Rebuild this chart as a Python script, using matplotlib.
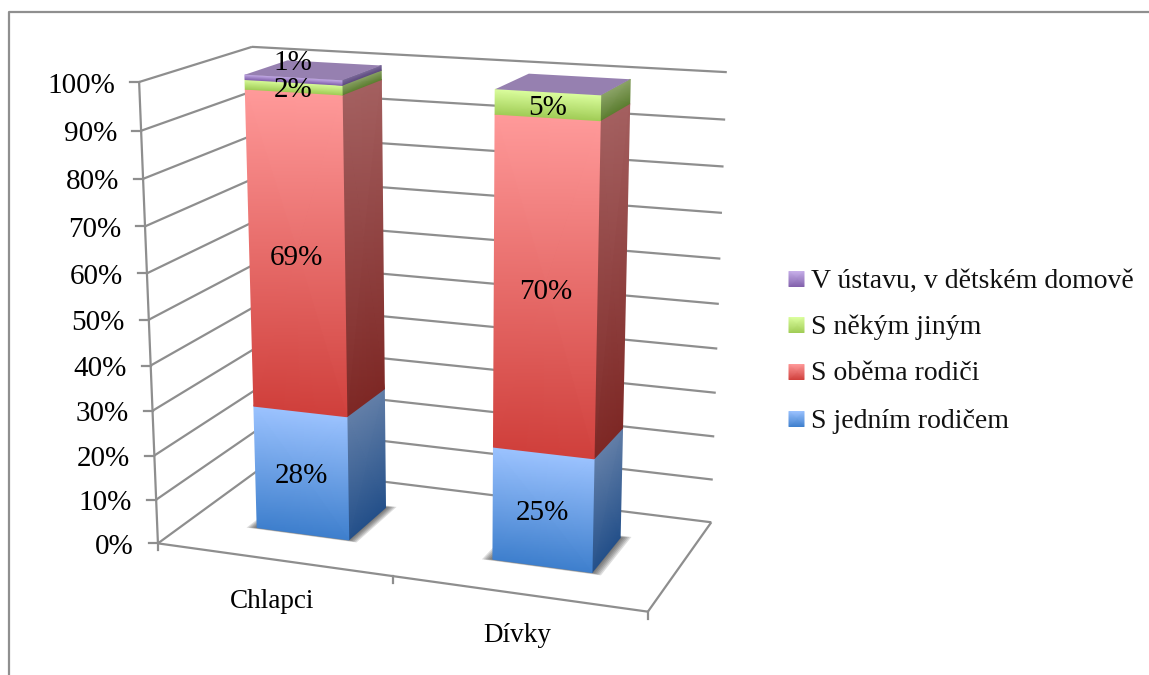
import numpy as np
import matplotlib
matplotlib.use('Agg')
import matplotlib.pyplot as plt
from matplotlib.colors import LinearSegmentedColormap
from matplotlib.patches import Polygon

# data
categories = ['Chlapci', 'Dívky']
series = ['S jedním rodičem', 'S oběma rodiči', 'S někým jiným', 'V ústavu, v dětském domově']
chlapci = [28, 69, 2, 1]
divky = [25, 70, 5, 0]
y_ticks = [0, 10, 20, 30, 40, 50, 60, 70, 80, 90, 100]

# colours for each series: front top, front bottom, side top, side bottom
front_top = ['#9cc3ff', '#ff9a9a', '#dcff9f', '#c8b0ea']
front_bot = ['#3e7fcd', '#d0403c', '#a0cc55', '#8160ab']
side_top = ['#637fa8', '#a46060', '#8ca468', '#7c6c9a']
side_bot = ['#24508a', '#7e2825', '#5c7e30', '#5d4a80']
top_color = '#9680b0'

plt.rcParams['font.family'] = ['Liberation Serif', 'DejaVu Serif']
grid_color = '#8e8e8e'

fig = plt.figure(figsize=(11.49, 6.75), dpi=100)
ax = fig.add_axes([0, 0, 1, 1])


# camera of the 3d box, fitted from where its corners fall on the canvas
box_3d = [(0, 0, 0), (1, 0, 0), (1, 0, 1), (0, 0, 1), (0, 1, 0), (0, 1, 1), (1, 1, 1)]
box_px = [(157, 544), (648, 611), (711, 523), (264, 466), (140, 82), (251, 47), (727, 72)]
rows = []
for (a, b, c), (px, py) in zip(box_3d, box_px):
    rows.append([a, b, c, 1, 0, 0, 0, 0, -px * a, -px * b, -px * c, -px])
    rows.append([0, 0, 0, 0, a, b, c, 1, -py * a, -py * b, -py * c, -py])
cam = np.linalg.svd(np.array(rows, dtype=float))[2][-1].reshape(3, 4)


def project(u, v, w):
    p = cam @ np.array([u, v, w, 1.0])
    return p[0] / p[2], p[1] / p[2]


def line3d(a, b):
    xa, ya = project(*a)
    xb, yb = project(*b)
    ax.plot([xa, xb], [ya, yb], color=grid_color, lw=1.6, solid_capstyle='butt', zorder=1)


def face(p_tl, p_tr, p_bl, p_br, c_top, c_bot):
    pts = [project(*p) for p in (p_tl, p_tr, p_bl, p_br)]
    X = np.array([[pts[0][0], pts[1][0]], [pts[2][0], pts[3][0]]])
    Y = np.array([[pts[0][1], pts[1][1]], [pts[2][1], pts[3][1]]])
    cm = LinearSegmentedColormap.from_list('f', [c_bot, c_top])
    ax.pcolormesh(X, Y, np.array([[1.0, 1.0], [0.0, 0.0]]), shading='gouraud', cmap=cm,
                  vmin=0, vmax=1, zorder=3)


# frame round the chart
ax.plot([8.5, 8.5, 1149], [675, 11.5, 11.5], color='#8f8f8f', lw=1.6)

# walls and floor
for t in y_ticks:
    v = t / 100
    line3d((0, v, 0), (0, v, 1))
    line3d((0, v, 1), (1, v, 1))
    x, y = project(0, v, 0)
    ax.plot([x - 9, x], [y, y], color=grid_color, lw=1.6, zorder=1)
    ax.text(x - 24, y + 3.5, f'{t}%', ha='right', va='center', fontsize=21, color='black')
line3d((0, 0, 0), (0, 1, 0))
line3d((0, 0, 0), (1, 0, 0))
line3d((1, 0, 0), (1, 0, 1))
for u in [0, 0.5, 1]:
    x, y = project(u, 0, 0)
    ax.plot([x, x], [y, y + 7], color=grid_color, lw=1.6, zorder=1)

# bars
bar_width = 0.2
w0, w1 = 0.3, 0.7
bar_left = [0.147, 0.65]
label_pos = [(272, 601), (517, 635)]
for i, vals in enumerate([chlapci, divky]):
    u0 = bar_left[i]
    u1 = u0 + bar_width

    # soft shadow on the floor
    for g in np.linspace(0.02, 0.003, 6):
        corners = [project(u0 - g, 0, w0 - g * 0.8), project(u1 + g, 0, w0 - g * 0.8),
                   project(u1 + g, 0, w1 + g * 1.2), project(u0 - g, 0, w1 + g * 1.2)]
        ax.add_patch(Polygon(corners, closed=True, fc='#303030', ec='none', alpha=0.16, zorder=2))

    bottom = 0
    for s, val in enumerate(vals):
        if val == 0:
            continue
        a = bottom / 100
        b = (bottom + val) / 100
        # side face first, front face over it
        face((u1, b, w0), (u1, b, w1), (u1, a, w0), (u1, a, w1), side_top[s], side_bot[s])
        face((u0, b, w0), (u1, b, w0), (u0, a, w0), (u1, a, w0), front_top[s], front_bot[s])
        xm, ym = project((u0 + u1) / 2, (a + b) / 2, w0)
        if val == 1:
            ym -= 20
        ax.text(xm, ym + 3, f'{val}%', ha='center', va='center', fontsize=21, color='black', zorder=6)
        bottom += val
    top = [project(u0, 1, w0), project(u1, 1, w0), project(u1, 1, w1), project(u0, 1, w1)]
    ax.add_patch(Polygon(top, closed=True, fc=top_color, ec='none', zorder=4))

    ax.text(label_pos[i][0], label_pos[i][1], categories[i], ha='center', va='center',
            fontsize=19.5, color='black')

# legend
legend_y = [419, 372, 325, 279]
for s, name in enumerate(series):
    y = legend_y[s]
    cm = LinearSegmentedColormap.from_list('l', [front_bot[s], front_top[s]])
    ax.pcolormesh(np.array([[789, 804], [789, 804]]), np.array([[y - 7.5, y - 7.5], [y + 7.5, y + 7.5]]),
                  np.array([[1.0, 1.0], [0.0, 0.0]]), shading='gouraud', cmap=cm, vmin=0, vmax=1)
    ax.text(811, y + 2, name, ha='left', va='center', fontsize=20, color='#111111')

ax.set_xlim(0, 1149)
ax.set_ylim(675, 0)
ax.axis('off')
fig.savefig('out.png', dpi=100)
